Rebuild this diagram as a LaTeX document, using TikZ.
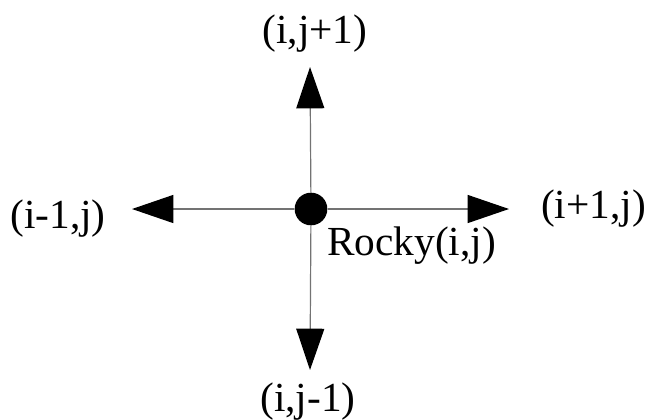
\documentclass[tikz,border=0pt]{standalone}
\usepackage{fontspec}
\setmainfont{Liberation Serif}
\usetikzlibrary{arrows.meta}
\tikzset{
  lbl/.style={inner sep=0pt,font=\fontsize{31}{36}\selectfont},
  nbr/.style={draw=black!55,line width=0.9pt,-{Triangle[length=31pt,width=21pt,color=black]}}
}
\begin{document}
\begin{tikzpicture}[x=0.75pt,y=-0.75pt]
\useasboundingbox (0,0) rectangle (650,419);
\node[circle,fill=black,inner sep=0pt,minimum size=24.5pt] (rocky) at (311,209) {};
\coordinate (upTip) at (310,67);
\coordinate (downTip) at (310,370);
\coordinate (leftTip) at (132,209);
\coordinate (rightTip) at (509,209);
\draw[nbr] (rocky) -- (upTip);
\draw[nbr] (rocky) -- (downTip);
\draw[nbr] (rocky) -- (leftTip);
\draw[nbr] (rocky) -- (rightTip);
\node[lbl] (up) at (315,33.5) {(i,j+1)};
\node[lbl] (down) at (308,401.5) {(i,j-1)};
\node[lbl] (left) at (58,218.5) {(i-1,j)};
\node[lbl] (right) at (593.5,209) {(i+1,j)};
\node[lbl] (name) at (411.5,246) {Rocky(i,j)};
\end{tikzpicture}
\end{document}
